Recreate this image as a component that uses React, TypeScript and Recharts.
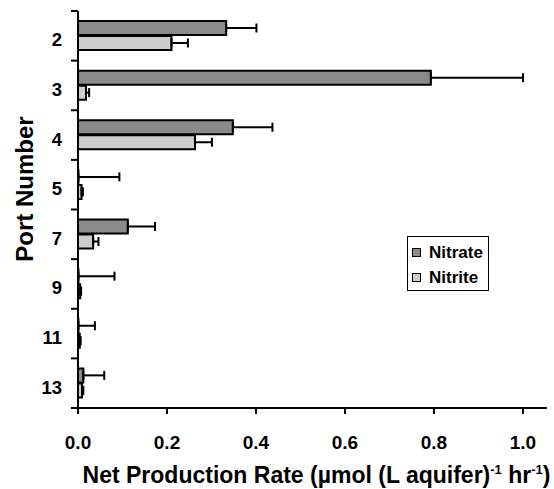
import React from 'react';
import { BarChart, Bar, XAxis, YAxis, ErrorBar, Label } from 'recharts';

const ports = ['2', '3', '4', '5', '7', '9', '11', '13'];
const nitrate = [0.333, 0.793, 0.348, 0.001, 0.112, 0.001, 0.001, 0.012];
const nitrateErr = [0.068, 0.207, 0.089, 0.092, 0.061, 0.081, 0.037, 0.047];
const nitrite = [0.21, 0.018, 0.263, 0.008, 0.034, 0.005, 0.004, 0.009];
const nitriteErr = [0.037, 0.007, 0.038, 0.003, 0.012, 0.002, 0.002, 0.003];
const xTicks = [0, 0.2, 0.4, 0.6, 0.8, 1.0];
const xMax = 1.054;
const seriesNames = ['Nitrate', 'Nitrite'];

const data = ports.map((p, i) => ({
  port: p,
  nitrate: nitrate[i],
  nitrateErr: [0, nitrateErr[i]],
  nitrite: nitrite[i],
  nitriteErr: [0, nitriteErr[i]],
}));

const W = 554;
const H = 489;
const TOP = 11;
const RIGHT = 7;
const LEFT = 78;
const BOTTOM = 81;
const BAND = (H - TOP - BOTTOM) / ports.length;
const FONT = '"Liberation Sans", Arial, Helvetica, sans-serif';
const NITRATE_FILL = '#8a8a8a';
const NITRITE_FILL = '#cdcdcd';

const YTick = (props: any) => {
  const { y, payload, index } = props;
  return (
    <g>
      <line x1={LEFT - 7} x2={LEFT} y1={y - BAND / 2} y2={y - BAND / 2} stroke="#000" strokeWidth={2} />
      {index === ports.length - 1 && (
        <line x1={LEFT - 7} x2={LEFT} y1={y + BAND / 2} y2={y + BAND / 2} stroke="#000" strokeWidth={2} />
      )}
      <text x={LEFT - 16} y={y + 10.5} textAnchor="end" fontFamily={FONT} fontWeight="bold" fontSize={18.5} fill="#000">
        {payload.value}
      </text>
    </g>
  );
};

const XTitle = (props: any) => {
  const vb = props.viewBox || { x: LEFT, y: H - BOTTOM, width: W - LEFT - RIGHT };
  const cx = vb.x + vb.width / 2 + 4;
  return (
    <text x={cx} y={vb.y + 75} textAnchor="middle" fontFamily={FONT} fontWeight="bold" fontSize={23} fill="#000">
      Net Production Rate (µmol (L aquifer)
      <tspan dy={-9} fontSize={13}>-1</tspan>
      <tspan dy={9}> hr</tspan>
      <tspan dy={-9} fontSize={13}>-1</tspan>
      <tspan dy={9}>)</tspan>
    </text>
  );
};

const YTitle = () => {
  const cx = 33;
  const cy = 189;
  return (
    <text
      x={cx}
      y={cy}
      textAnchor="middle"
      transform={`rotate(-90, ${cx}, ${cy})`}
      fontFamily={FONT}
      fontWeight="bold"
      fontSize={24}
      fill="#000"
    >
      Port Number
    </text>
  );
};

const LegendBox = () => {
  const fills = [NITRATE_FILL, NITRITE_FILL];
  return (
    <div
      style={{
        position: 'absolute',
        left: 407,
        top: 236,
        border: '1px solid #000',
        width: 80,
        height: 48,
        background: '#fff',
        fontFamily: FONT,
        fontWeight: 'bold',
        fontSize: 17,
        color: '#000',
        boxSizing: 'content-box',
        paddingTop: 3,
        paddingBottom: 2,
      }}
    >
      {seriesNames.map((name, i) => (
        <div key={name} style={{ display: 'flex', alignItems: 'center', height: 25, paddingLeft: 4 }}>
          <span
            style={{
              display: 'inline-block',
              width: 7,
              height: 7,
              border: '1.5px solid #000',
              background: fills[i],
              marginRight: 8,
            }}
          />
          <span>{name}</span>
        </div>
      ))}
    </div>
  );
};

export default function App() {
  return (
    <div style={{ position: 'absolute', left: 0, top: 0, width: W, height: H, background: '#fff' }}>
      <BarChart
        width={W}
        height={H}
        data={data}
        layout="vertical"
        margin={{ top: TOP, right: RIGHT, left: 0, bottom: 0 }}
        barSize={14}
        barGap={1}
      >
        <XAxis
          type="number"
          domain={[0, xMax]}
          ticks={xTicks}
          tickFormatter={(v: number) => v.toFixed(1)}
          height={BOTTOM}
          axisLine={{ stroke: '#000', strokeWidth: 2 }}
          tickLine={{ stroke: '#000', strokeWidth: 2 }}
          tickSize={6}
          tickMargin={22}
          tick={{ fill: '#000', fontFamily: FONT, fontWeight: 'bold', fontSize: 19 }}
          allowDataOverflow
        >
          <Label content={XTitle} />
        </XAxis>
        <XAxis
          xAxisId="top"
          orientation="top"
          type="number"
          domain={[0, xMax]}
          height={0}
          tick={false}
          tickLine={false}
          axisLine={{ stroke: '#000', strokeWidth: 1 }}
        />
        <YAxis
          type="category"
          dataKey="port"
          width={LEFT}
          axisLine={{ stroke: '#000', strokeWidth: 2 }}
          tickLine={false}
          tickSize={0}
          tick={<YTick />}
          interval={0}
        >
          <Label content={YTitle} />
        </YAxis>
        <YAxis
          yAxisId="right"
          orientation="right"
          type="category"
          dataKey="port"
          width={0}
          tick={false}
          tickLine={false}
          axisLine={{ stroke: '#000', strokeWidth: 1 }}
        />
        <Bar dataKey="nitrate" name={seriesNames[0]} fill={NITRATE_FILL} stroke="#000" strokeWidth={2} isAnimationActive={false}>
          <ErrorBar dataKey="nitrateErr" direction="x" width={4.5} stroke="#000" strokeWidth={2} />
        </Bar>
        <Bar dataKey="nitrite" name={seriesNames[1]} fill={NITRITE_FILL} stroke="#000" strokeWidth={2} isAnimationActive={false}>
          <ErrorBar dataKey="nitriteErr" direction="x" width={4.5} stroke="#000" strokeWidth={2} />
        </Bar>
      </BarChart>
      <LegendBox />
    </div>
  );
}
